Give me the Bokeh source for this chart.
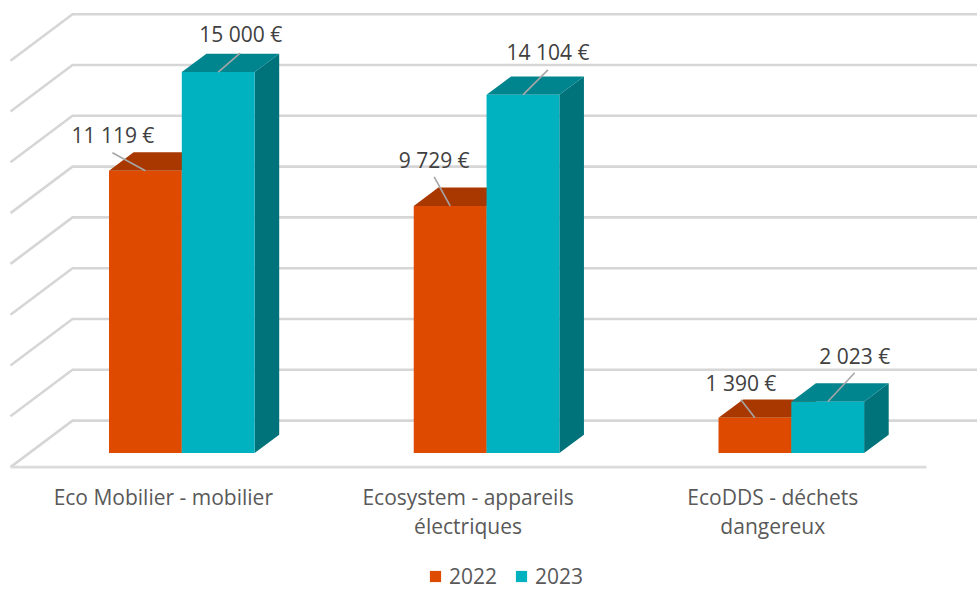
from bokeh.plotting import figure
from bokeh.models import Legend, LegendItem
from bokeh.core.properties import value
from bokeh.embed import file_html
from bokeh.resources import INLINE

categories = ["Eco Mobilier - mobilier", "Ecosystem - appareils\nélectriques", "EcoDDS - déchets\ndangereux"]
series_names = ["2022", "2023"]
values_2022 = [11119, 9729, 1390]
values_2023 = [15000, 14104, 2023]
labels_2022 = ["11 119 €", "9 729 €", "1 390 €"]
labels_2023 = ["15 000 €", "14 104 €", "2 023 €"]
grid_values = [0, 2000, 4000, 6000, 8000, 10000, 12000, 14000, 16000]

# ---- layout (pixels -> data) ----
W, H = 977, 591
PX_PER_CAT = 304.75
PX_PER_UNIT = 0.0254
X0_PAGE, Y0_PAGE = 181.3, 452.6      # page position of first category centre, value 0

def dx(px):
    return px / PX_PER_CAT

def dy(px):
    return px / PX_PER_UNIT

x_start = -X0_PAGE / PX_PER_CAT
x_end = x_start + W / PX_PER_CAT
y_top = Y0_PAGE / PX_PER_UNIT
y_bottom = y_top - H / PX_PER_UNIT

p = figure(width=W, height=H, output_backend="svg", toolbar_location=None,
           x_range=(x_start, x_end), y_range=(y_bottom, y_top),
           x_axis_type=None, y_axis_type=None, min_border=0,
           outline_line_color=None, background_fill_color="white")
p.grid.visible = False

BAR_W = dx(72.8)
DEPTH_X, DEPTH_Y = dx(24.6), dy(18.4)

# floor / wall geometry
wall_left_front = (10 - X0_PAGE) / PX_PER_CAT
wall_left_back = (72 - X0_PAGE) / PX_PER_CAT
floor_right_front = (926 - X0_PAGE) / PX_PER_CAT
wall_right = (985 - X0_PAGE) / PX_PER_CAT
back_rise = dy(32.5)    # value-0 back line sits above the bars' baseline
front_drop = dy(14)

GRID_COL = "#d6d6d6"
for g in grid_values:
    p.line([wall_left_front, wall_left_back, wall_right],
           [g - front_drop, g + back_rise, g + back_rise],
           line_color=GRID_COL, line_width=2.6, line_join="miter")
p.line([wall_left_front, floor_right_front], [-front_drop, -front_drop],
       line_color="#dcdcdc", line_width=2.6)

colors = {
    "2022": ("#DD4A00", "#A93800", "#8F3000"),
    "2023": ("#00B2BF", "#00858F", "#00727A"),
}

renderers = []
for k, (name, vals) in enumerate(zip(series_names, [values_2022, values_2023])):
    front, top, side = colors[name]
    lefts = [c - BAR_W + k * BAR_W for c in range(len(vals))]
    rights = [l + BAR_W for l in lefts]
    p.patches([[r, r + DEPTH_X, r + DEPTH_X, r] for r in rights],
              [[v, v + DEPTH_Y, DEPTH_Y, 0] for v in vals],
              fill_color=side, line_color=None)
    p.patches([[l, l + DEPTH_X, r + DEPTH_X, r] for l, r in zip(lefts, rights)],
              [[v, v + DEPTH_Y, v + DEPTH_Y, v] for v in vals],
              fill_color=top, line_color=None)
    r = p.quad(left=lefts, right=rights, bottom=[0] * len(vals), top=vals,
               fill_color=front, line_color=None)
    renderers.append(r)

# data labels + leader lines
leader_px_2022 = [(-33, -18), (-16, -29), (-14, -18)]
leader_px_2023 = [(22, -19), (25, -25), (27, -29)]
label_px_2022 = [(-32.5, -36), (-16, -46), (-14, -35)]
label_px_2023 = [(22.5, -38), (25, -43), (27, -46)]

for k, (vals, labs, lead, lab) in enumerate([
        (values_2022, labels_2022, leader_px_2022, label_px_2022),
        (values_2023, labels_2023, leader_px_2023, label_px_2023)]):
    cx = [c + (k - 0.5) * BAR_W for c in range(len(vals))]
    p.segment(x0=cx, y0=vals,
              x1=[c + dx(o[0]) for c, o in zip(cx, lead)],
              y1=[v - dy(o[1]) for v, o in zip(vals, lead)],
              line_color="#a6a6a6", line_width=1.6)
    p.text(x=[c + dx(o[0]) for c, o in zip(cx, lab)],
           y=[v - dy(o[1]) for v, o in zip(vals, lab)],
           text=labs, text_font=value("Open Sans"), text_font_size="21px",
           text_color="#404040", text_align="center", text_baseline="middle")

# category labels
p.text(x=[c - dx(18.5) for c in range(len(categories))],
       y=[-dy(29.5)] * len(categories),
       text=categories, text_font=value("Open Sans"), text_font_size="21px",
       text_color="#595959", text_align="center", text_baseline="top",
       text_line_height=1.05)

legend = Legend(items=[LegendItem(label=n, renderers=[r]) for n, r in zip(series_names, renderers)],
                orientation="horizontal", location=(428, 1), border_line_color=None,
                background_fill_alpha=0, glyph_width=14, glyph_height=14,
                label_text_font="Open Sans", label_text_font_size="21px",
                label_text_color="#595959", label_standoff=7, spacing=17,
                padding=0, margin=0, label_height=18)
p.add_layout(legend, "center")

open("out.html", "w").write(file_html(p, INLINE))
